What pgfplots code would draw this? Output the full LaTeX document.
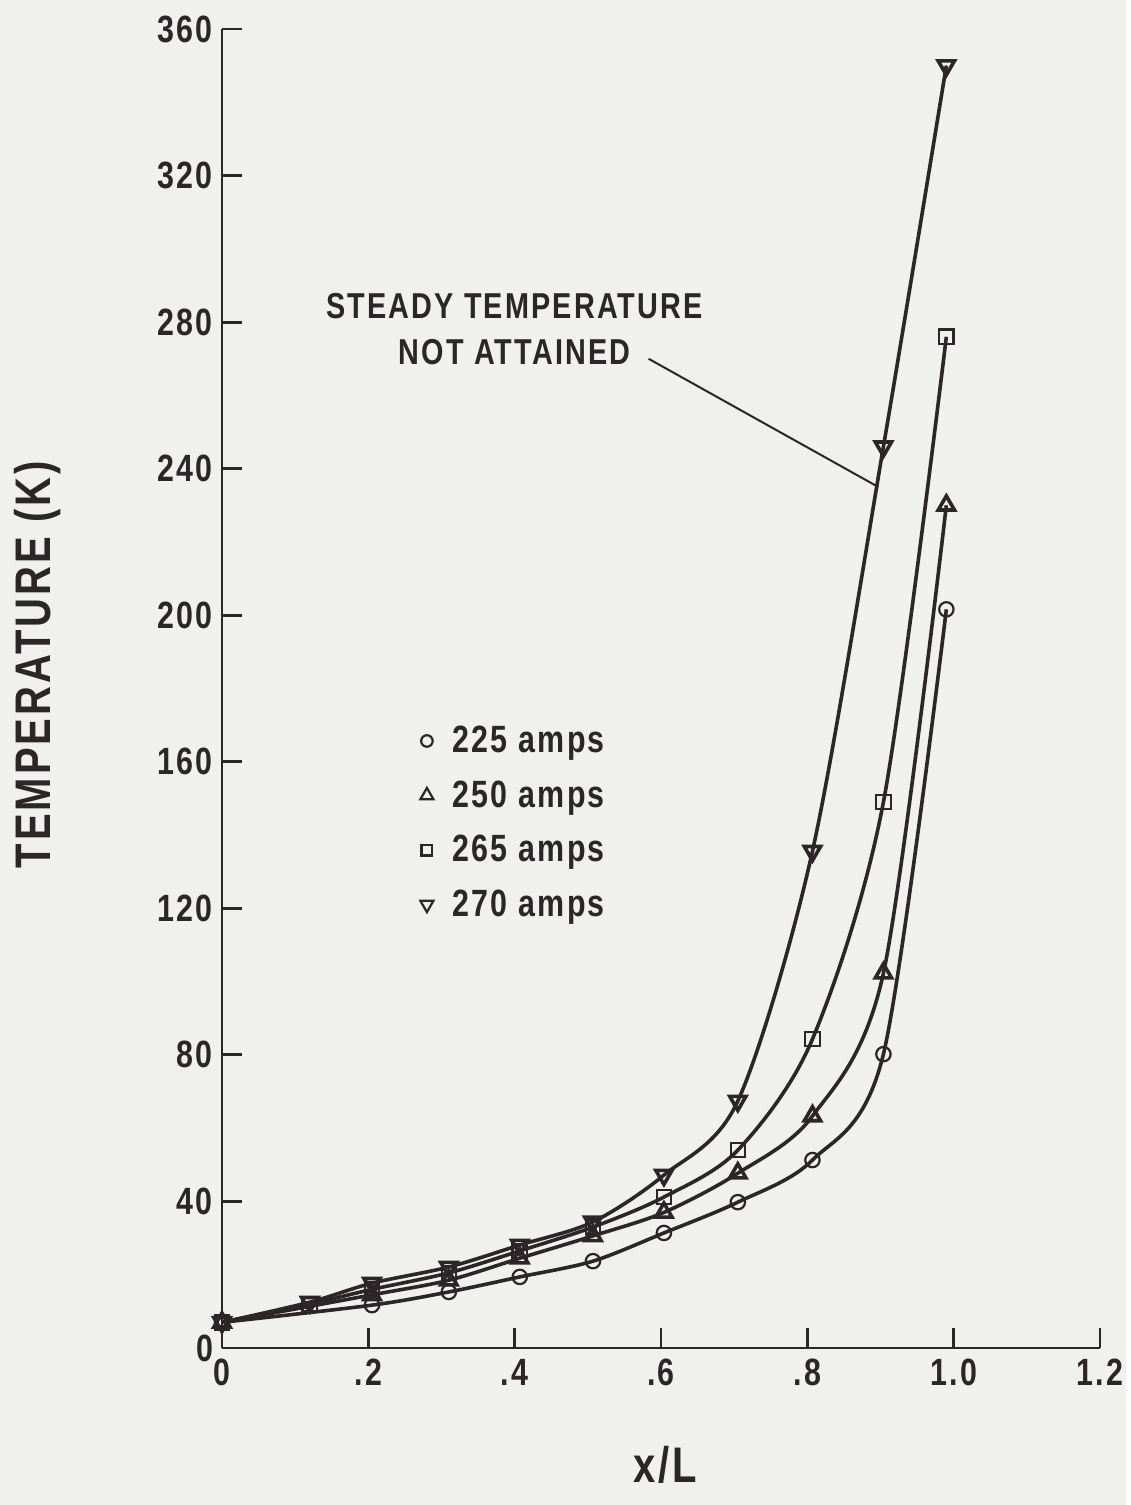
\documentclass[border=0pt]{standalone}
\usepackage{pgfplots}
\pgfplotsset{compat=1.18}
\usepackage{fontspec}
\setmainfont{Liberation Sans}[FakeStretch=0.8, LetterSpace=6]
\definecolor{bg}{RGB}{240,240,236}
\definecolor{ink}{RGB}{44,38,40}
\begin{document}
\begin{tikzpicture}[font=\bfseries\fontsize{19}{22}\selectfont, color=ink]
\fill[bg] (-111pt,-78.5pt) rectangle (452pt,674pt);
\begin{axis}[
  at={(0,0)}, anchor=south west,
  scale only axis, width=439pt, height=659.5pt,
  xmin=0, xmax=1.2, ymin=0, ymax=360,
  axis x line=bottom, axis y line=left,
  axis line style={-, line width=1.4pt, ink},
  tick style={line width=1.4pt, ink},
  xtick align=inside, ytick align=inside, major tick length=10pt,
  xtick={0,0.2,0.4,0.6,0.8,1.0,1.2},
  xticklabels={0,.2,.4,.6,.8,1.0,1.2},
  ytick={0,40,...,360},
  /pgf/number format/assume math mode=true,
  ticklabel style={font=\bfseries\fontsize{19}{22}\selectfont, color=ink},
  xticklabel style={yshift=-2pt},
  yticklabel style={xshift=-1pt},
  xlabel={x/L}, ylabel={TEMPERATURE (K)},
  every axis x label/.style={at={(axis description cs:0.505,-0.0887)}, anchor=center},
  every axis y label/.style={at={(axis description cs:-0.2096,0.518)}, rotate=90, anchor=center},
  label style={font=\bfseries\fontsize{25}{29}\selectfont, color=ink},
  every axis plot/.append style={line width=1.8pt, ink, smooth, tension=0.5,
     mark options={solid, fill=bg, line width=1.1pt}},
  mark size=3.6pt,
  legend style={at={(axis cs:0.262,172)}, anchor=north west, draw=none, fill=none,
     font=\bfseries\fontsize{19}{22}\selectfont, text=ink, row sep=8.5pt, legend cell align=left},
  legend image code/.code={\path[draw=none] (0cm,0cm) -- (0.5cm,0cm); \draw plot coordinates {(0.12cm,0cm)};},
]
\addplot[mark=o, forget plot] coordinates {(0,7)(0.205,11.7)(0.31,15.3)(0.407,19.4)(0.507,23.7)(0.604,31.4)(0.705,39.8)(0.807,51.3)(0.904,80.2)(0.99,201.6)};
\addplot[mark=triangle, mark options={scale=1.3}, forget plot] coordinates {(0,7)(0.205,14.5)(0.31,18.5)(0.407,24.5)(0.507,30.6)(0.604,37)(0.705,47.7)(0.807,63.3)(0.904,102.3)(0.99,230)};
\addplot[mark=square, forget plot] coordinates {(0,7)(0.12,12)(0.205,16)(0.31,20.5)(0.407,26.5)(0.507,33)(0.604,41.2)(0.705,54)(0.807,84.3)(0.904,149)(0.99,276)};
\addplot[mark=triangle, mark options={rotate=180, scale=1.3}, forget plot] coordinates {(0,7)(0.12,12.5)(0.205,17.7)(0.31,22.1)(0.407,28.1)(0.507,34.4)(0.604,47.2)(0.705,67.4)(0.807,135.6)(0.904,246)(0.99,350)};
\addlegendimage{only marks, mark=o, mark options={fill=bg, line width=1.1pt, scale=0.8}}
\addlegendentry{225 amps}
\addlegendimage{only marks, mark=triangle, mark options={fill=bg, line width=1.1pt, scale=1.05}}
\addlegendentry{250 amps}
\addlegendimage{only marks, mark=square, mark options={fill=bg, line width=1.1pt, scale=0.75}}
\addlegendentry{265 amps}
\addlegendimage{only marks, mark=triangle, mark options={rotate=180, fill=bg, line width=1.1pt, scale=1.05}}
\addlegendentry{270 amps}
\node[align=center, font=\bfseries\fontsize{18}{23}\selectfont, text=ink] at (axis cs:0.40,278) {STEADY TEMPERATURE\\NOT ATTAINED};
\draw[line width=1pt, ink] (axis cs:0.583,270) -- (axis cs:0.897,235);
\end{axis}
\path (-111pt,-78.5pt) (452pt,674pt);
\end{tikzpicture}
\end{document}
